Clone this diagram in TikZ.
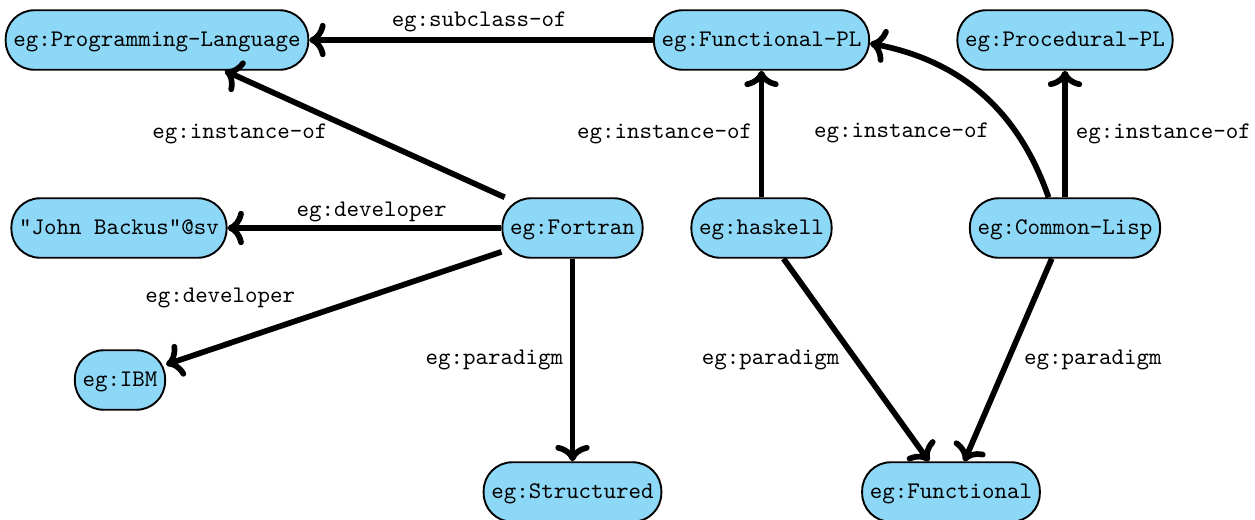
\documentclass[tikz,border=0pt]{standalone}
\usetikzlibrary{arrows.meta}
\definecolor{nodeblue}{HTML}{8DD8F7}
\begin{document}
\begin{tikzpicture}[x=0.4202pt,y=-0.4202pt,
  res/.style={draw=black, line width=0.8pt, fill=nodeblue, rounded corners=12pt,
    minimum height=25pt, inner xsep=3.2pt, text height=1.6ex, text depth=0.3ex,
    font=\ttfamily},
  rel/.style={line width=2.4pt, ->},
  lab/.style={font=\ttfamily, inner sep=0pt}]
\useasboundingbox (0,0) rectangle (1255,519);

\node[res] (PL)  at (157,40)  {eg:Programming-Language};
\node[res] (FPL) at (761.5,40)  {eg:Functional-PL};
\node[res] (PPL) at (1065,40) {eg:Procedural-PL};
\node[res] (JB)  at (119,228) {"John Backus"@sv};
\node[res] (F)   at (572.5,228) {eg:Fortran};
\node[res] (H)   at (761.5,228) {eg:haskell};
\node[res] (CL)  at (1065,228) {eg:Common-Lisp};
\node[res] (IBM) at (120,380) {eg:IBM};
\node[res] (ST)  at (572.5,492) {eg:Structured};
\node[res] (FN)  at (951,492) {eg:Functional};

\draw[rel] (FPL) -- node[lab, xshift=-0.8pt, yshift=7.6pt] {eg:subclass-of} (PL);
\draw[rel] (F) -- node[lab, xshift=-52.5pt] {eg:instance-of} (PL);
\draw[rel] (F) -- node[lab, xshift=3pt, yshift=6.7pt] {eg:developer} (JB);
\draw[rel] (F) -- node[lab, xshift=-47.7pt, yshift=4.2pt] {eg:developer} (IBM);
\draw[rel] (F) -- node[lab, xshift=-32.8pt] {eg:paradigm} (ST);
\draw[rel] (H) -- node[lab, xshift=-40.7pt] {eg:instance-of} (FPL);
\draw[rel] (CL) to[bend right=30] node[lab, pos=0.5, anchor=east, xshift=4.2pt, yshift=-16.4pt] {eg:instance-of} (FPL);
\draw[rel] (CL) -- node[lab, anchor=west, xshift=3.4pt] {eg:instance-of} (PPL);
\draw[rel] (H) -- node[lab, xshift=-36pt] {eg:paradigm} (FN);
\draw[rel] (CL) -- node[lab, xshift=35.7pt] {eg:paradigm} (FN);
\end{tikzpicture}
\end{document}
